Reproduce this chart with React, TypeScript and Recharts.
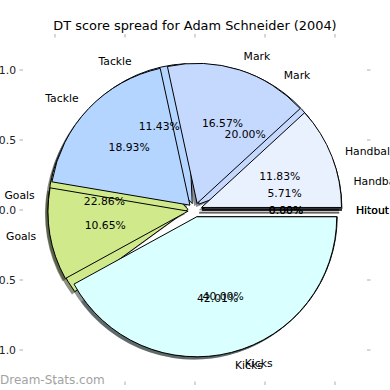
import React from 'react';
import { PieChart, Pie, Cell } from 'recharts';

const categories = ['Hitout', 'Handball', 'Mark', 'Tackle', 'Goals', 'Kicks'];
// two seasons of DT score spread (percent of total)
const outerShare = [0, 11.83, 16.57, 18.93, 10.65, 42.01];
const innerShare = [0, 5.71, 20.0, 11.43, 22.86, 40.0];
const sliceColors = ['#ffd6d6', '#e9f1ff', '#c5d9ff', '#b3d5ff', '#cfe98b', '#d9ffff'];
const axisTicks = [-1.0, -0.5, 0.0, 0.5, 1.0];

const W = 390;
const H = 390;
const CX = 195;
const CY = 210;
const R = 140; // 1.0 in axis units
const EXPLODE = 0.05 * R;
const SHADOW = 0.02 * R;
const RAD = Math.PI / 180;
const FONT = '"DejaVu Sans", sans-serif';
const LABEL_SIZE = 10.8;

const toRows = (values: number[]) => categories.map((name, i) => ({ name, value: values[i] }));

const explodeOffsets = (values: number[]) => {
  const total = values.reduce((a, b) => a + b, 0);
  let cum = 0;
  return values.map((v) => {
    const mid = ((cum + v / 2) / total) * 360;
    cum += v;
    return [EXPLODE * Math.cos(mid * RAD), -EXPLODE * Math.sin(mid * RAD)];
  });
};

const darken = (hex: string) => {
  const n = parseInt(hex.slice(1), 16);
  const r = Math.round(((n >> 16) & 255) * 0.3);
  const g = Math.round(((n >> 8) & 255) * 0.3);
  const b = Math.round((n & 255) * 0.3);
  return `rgb(${r},${g},${b})`;
};

const renderWedges = (id: string, values: number[], shadow: boolean) => {
  const rows = toRows(values);
  const offs = explodeOffsets(values);
  return rows.map((_, j) => (
    <Pie
      key={`${id}-${shadow ? 's' : 'w'}-${j}`}
      data={rows}
      dataKey="value"
      nameKey="name"
      cx={CX + offs[j][0] - (shadow ? SHADOW : 0)}
      cy={CY + offs[j][1] + (shadow ? SHADOW : 0)}
      outerRadius={R}
      startAngle={0}
      endAngle={360}
      stroke="none"
      label={false}
      labelLine={false}
      isAnimationActive={false}
    >
      {rows.map((r, i) => (
        <Cell
          key={r.name}
          fill={i === j ? (shadow ? darken(sliceColors[i]) : sliceColors[i]) : 'none'}
          fillOpacity={shadow ? 0.6 : 1}
          stroke={i === j && !shadow ? '#000' : 'none'}
          strokeWidth={1}
        />
      ))}
    </Pie>
  ));
};

const sliceLabel = (p: any) => {
  const a = p.midAngle * RAD;
  const cos = Math.cos(a);
  const sin = Math.sin(a);
  const ox = p.cx + EXPLODE * cos;
  const oy = p.cy - EXPLODE * sin;
  const lx = ox + R * 1.1 * cos;
  const ly = oy - R * 1.1 * sin;
  const px = ox + R * 0.6 * cos;
  const py = oy - R * 0.6 * sin;
  return (
    <g key={`lbl-${p.index}`}>
      {p.value === 0 && (
        <g>
          <line x1={ox - SHADOW} y1={oy + SHADOW} x2={ox - SHADOW + R * cos} y2={oy + SHADOW - R * sin} stroke="rgba(70,70,70,0.6)" strokeWidth={1.5} />
          <line x1={ox} y1={oy} x2={ox + R * cos} y2={oy - R * sin} stroke="#000" strokeWidth={1.2} />
        </g>
      )}
      <text x={lx} y={ly} textAnchor={cos > 0 ? 'start' : 'end'} dominantBaseline="central" fontSize={LABEL_SIZE} fontFamily={FONT} fill="#000">
        {p.name}
      </text>
      <text x={px} y={py} textAnchor="middle" dominantBaseline="central" fontSize={LABEL_SIZE} fontFamily={FONT} fill="#000">
        {(p.percent * 100).toFixed(2)}%
      </text>
    </g>
  );
};

const renderLabels = (id: string, values: number[]) => (
  <Pie
    key={`${id}-labels`}
    data={toRows(values)}
    dataKey="value"
    nameKey="name"
    cx={CX}
    cy={CY}
    outerRadius={R}
    startAngle={0}
    endAngle={360}
    fill="none"
    stroke="none"
    label={sliceLabel}
    labelLine={false}
    isAnimationActive={false}
  />
);

const AxisDecor = () => {
  const pos = (v: number) => v * R;
  return (
    <svg width={W} height={H} style={{ position: 'absolute', left: 0, top: 0, pointerEvents: 'none' }}>
      <text x={195} y={30} textAnchor="middle" fontSize={12.9} fontFamily={FONT} fill="#000">
        DT score spread for Adam Schneider (2004)
      </text>
      {axisTicks.map((t) => (
        <g key={`x${t}`}>
          <line x1={CX + pos(t)} x2={CX + pos(t)} y1={34} y2={37.5} stroke="#c8c8c8" strokeWidth={1.5} />
          <line x1={CX + pos(t)} x2={CX + pos(t)} y1={381.5} y2={385} stroke="#c8c8c8" strokeWidth={1.5} />
          <text x={CX + pos(t)} y={397.5} textAnchor="middle" fontSize={LABEL_SIZE} fontFamily={FONT} fill="#222">
            {t.toFixed(1)}
          </text>
        </g>
      ))}
      {axisTicks.map((t) => (
        <g key={`y${t}`}>
          <line x1={19.5} x2={23} y1={CY - pos(t)} y2={CY - pos(t)} stroke="#c8c8c8" strokeWidth={1.5} />
          <line x1={367} x2={370.5} y1={CY - pos(t)} y2={CY - pos(t)} stroke="#c8c8c8" strokeWidth={1.5} />
          <text x={16} y={CY - pos(t)} textAnchor="end" dominantBaseline="central" fontSize={LABEL_SIZE} fontFamily={FONT} fill="#222">
            {t.toFixed(1)}
          </text>
        </g>
      ))}
      <text x={0} y={384} fontSize={12} fontFamily={FONT} fill="#a3a3a3">
        Dream-Stats.com
      </text>
    </svg>
  );
};

export default function App() {
  return (
    <div style={{ position: 'absolute', left: 0, top: 0, width: W, height: H, background: '#fff', overflow: 'hidden' }}>
      <PieChart width={W} height={H} margin={{ top: 0, right: 0, bottom: 0, left: 0 }}>
        {renderWedges('b', innerShare, true)}
        {renderWedges('a', outerShare, true)}
        {renderWedges('b', innerShare, false)}
        {renderWedges('a', outerShare, false)}
        {renderLabels('b', innerShare)}
        {renderLabels('a', outerShare)}
      </PieChart>
      <AxisDecor />
    </div>
  );
}
